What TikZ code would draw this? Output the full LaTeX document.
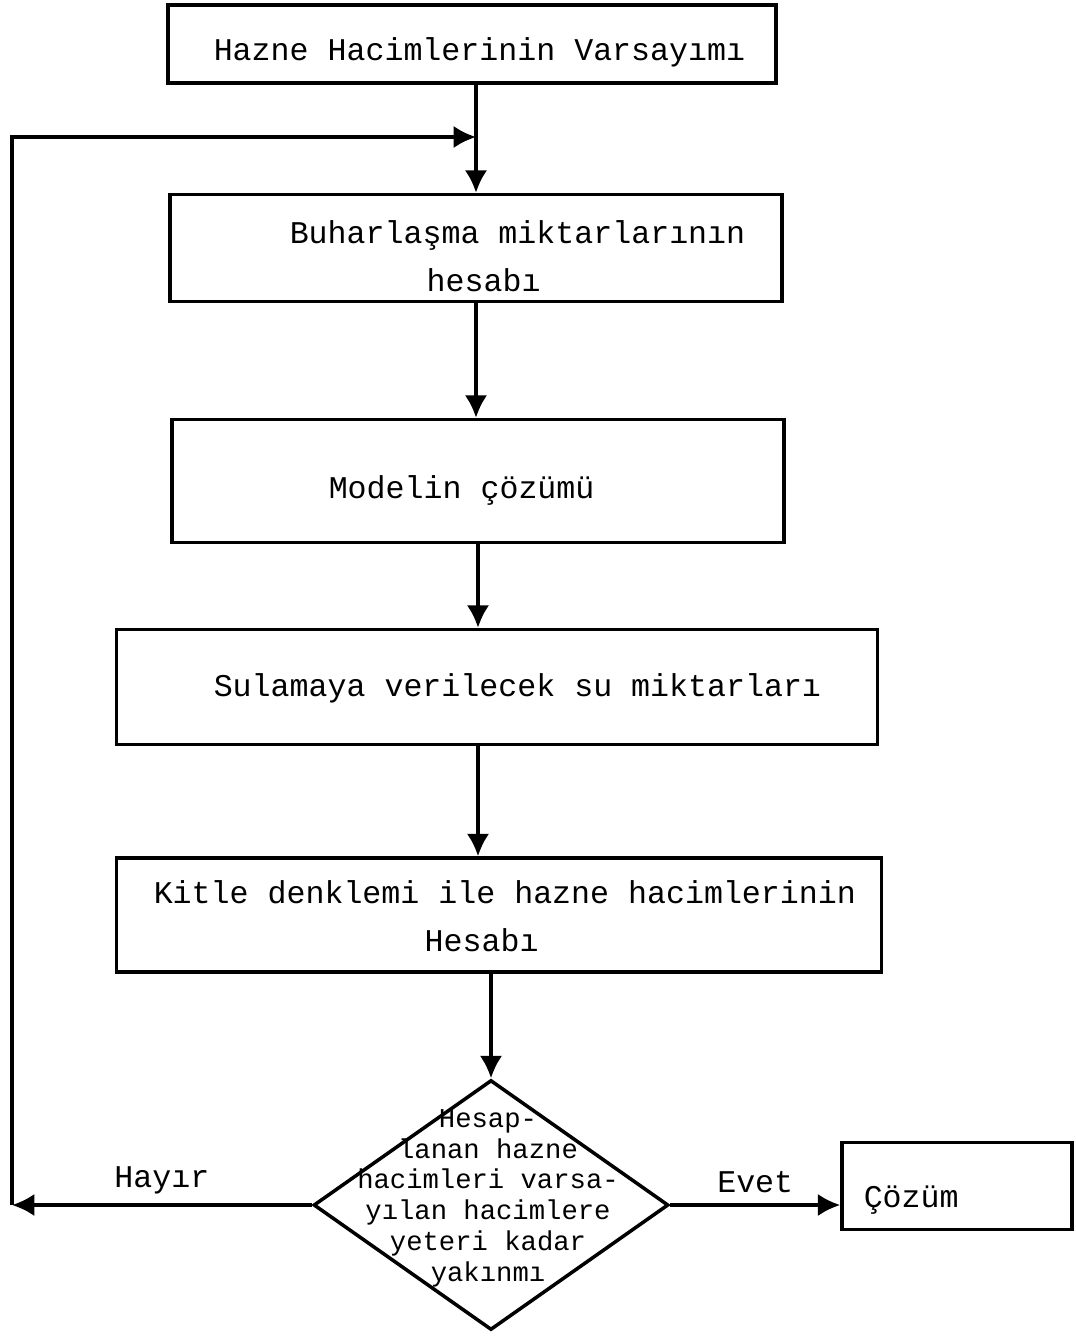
\documentclass[tikz,border=0pt]{standalone}
\usepackage{fontspec}
\setmonofont{Liberation Mono}
\usetikzlibrary{arrows.meta,shapes.geometric}
\begin{document}
\begin{tikzpicture}[x=0.02cm,y=-0.02cm,->,>={Latex[length=4.5mm,width=4.5mm]},line width=2pt,
	kutu/.style={rectangle,draw,inner sep=0pt},
	yazi/.style={anchor=west,inner sep=0pt,align=left,font=\ttfamily\fontsize{18}{27.3}\selectfont},
	karar kutu/.style={diamond,draw,inner sep=0pt,minimum width=7.1cm,minimum height=5cm}]
	\useasboundingbox (0,0) rectangle (1076,1340);
	%kutular
	\node[kutu,minimum width=12.16cm,minimum height=1.56cm] (varsayim) at (472,44) {};
	\node[kutu,minimum width=12.24cm,minimum height=2.14cm] (buhar) at (476,248) {};
	\node[kutu,minimum width=12.24cm,minimum height=2.46cm] (model) at (478,481) {};
	\node[kutu,minimum width=15.22cm,minimum height=2.3cm] (sulama) at (497,687) {};
	\node[kutu,minimum width=15.3cm,minimum height=2.28cm] (kitle) at (499,915) {};
	\node[karar kutu] (karar) at (491,1205) {};
	\node[kutu,minimum width=4.6cm,minimum height=1.74cm] (cozum) at (957,1186) {};
	
	%yazilar
	\node[yazi] (varsayimT) at (212,52) {Hazne Hacimlerinin Varsayımı};
	\node[yazi] (buharT) at (288,256) {Buharlaşma miktarlarının\\\hspace*{2.74cm}hesabı};
	\node[yazi] (modelT) at (327,490) {Modelin çözümü};
	\node[yazi] (sulamaT) at (212,688) {Sulamaya verilecek su miktarları};
	\node[yazi] (kitleT) at (152,916) {Kitle denklemi ile hazne hacimlerinin\\\hspace*{5.42cm}Hesabı};
	\node[yazi] (cozumT) at (862,1200) {Çözüm};
	\node[anchor=center,inner sep=0pt,align=center,font=\ttfamily\fontsize{15.5}{17.5}\selectfont] (kararT) at (488,1198)
	{Hesap-\\lanan hazne\\hacimleri varsa-\\yılan hacimlere\\yeteri kadar\\yakınmı};
	
	\coordinate (donus) at (12,1205);
	\coordinate (birlesme) at (476,137);
	
	\draw (buhar.north |- varsayim.south) -- (buhar.north);
	\draw (buhar.south) -- (buhar.south |- model.north);
	\draw (model.south) -- (model.south |- sulama.north);
	\draw (model.south |- sulama.south) -- (model.south |- kitle.north);
	\draw (karar.north |- kitle.south) -- (karar.north);
	\draw (karar.west) -- node[yazi,above=5pt] {Hayır} (donus);
	\draw (donus) |- (birlesme);
	\draw (karar.east) -- node[yazi,above=6pt] {Evet} (karar.east -| cozum.west);
\end{tikzpicture}
\end{document}
